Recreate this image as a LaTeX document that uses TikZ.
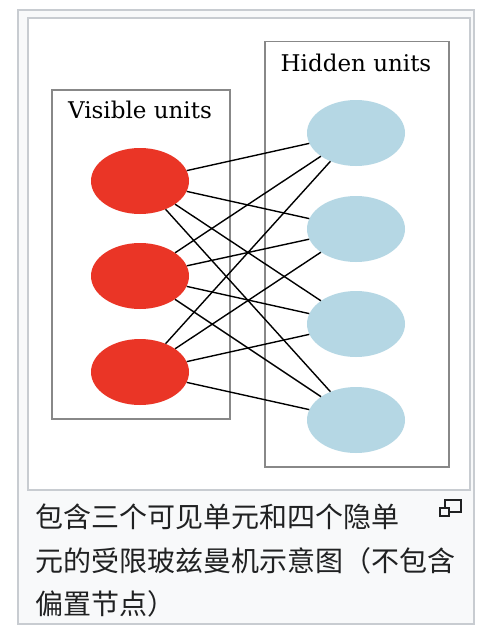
\documentclass[tikz,border=0pt]{standalone}
\usepackage{fontspec}
\newfontfamily\cjk{Noto Sans CJK SC}
\newfontfamily\unitfont{DejaVu Serif}
\usetikzlibrary{shapes.geometric, positioning}

\definecolor{visred}{RGB}{234,53,38}
\definecolor{hidblue}{RGB}{181,215,228}
\definecolor{framegray}{RGB}{200,204,209}
\definecolor{boxgray}{RGB}{136,136,136}
\definecolor{captionbg}{RGB}{248,249,250}
\definecolor{captiontext}{RGB}{32,33,34}

\tikzset{
  unit/.style={ellipse,minimum width=98pt,minimum height=66pt,inner sep=0pt},
  visible/.style={unit,fill=visred},
  hidden/.style={unit,fill=hidblue},
  layerbox/.style={draw=boxgray,line width=1.5pt,rectangle,inner sep=0pt,anchor=north west},
  layerlabel/.style={font=\unitfont\fontsize{23}{27}\selectfont,anchor=base},
  weight/.style={line width=1.4pt},
  captionline/.style={font=\cjk\fontsize{28}{44}\selectfont,text=captiontext,anchor=base west,inner sep=0pt}
}

\begin{document}
\begin{tikzpicture}[x=1pt,y=-1pt]
\useasboundingbox (0,0) rectangle (484,626);

% frame and thumbnail
\draw[draw=framegray,fill=captionbg,line width=1.5pt] (18,10) rectangle (474,624);
\draw[draw=framegray,fill=white,line width=1.5pt] (28,18) rectangle (470,490);

% layer boxes
\node[layerbox,minimum width=178pt,minimum height=329pt] (vbox) at (51,89){};
\node[layerbox,minimum width=184pt,minimum height=425pt] (hbox) at (264,41){};
\node[layerlabel] (vlabel) at (140,118){Visible units};
\node[layerlabel] (hlabel) at (356,71){Hidden units};

% units
\node[visible] (v1) at (140,181){};
\node[visible] (v2) at (140,276){};
\node[visible] (v3) at (140,372){};
\node[hidden] (h1) at (356,133){};
\node[hidden] (h2) at (356,229){};
\node[hidden] (h3) at (356,324){};
\node[hidden] (h4) at (356,420){};

\draw[weight] (v1) to (h1);
\draw[weight] (v1) to (h2);
\draw[weight] (v1) to (h3);
\draw[weight] (v1) to (h4);

\draw[weight] (v2) to (h1);
\draw[weight] (v2) to (h2);
\draw[weight] (v2) to (h3);
\draw[weight] (v2) to (h4);

\draw[weight] (v3) to (h1);
\draw[weight] (v3) to (h2);
\draw[weight] (v3) to (h3);
\draw[weight] (v3) to (h4);

% caption
\node[captionline] (cap1) at (35,527){包含三个可见单元和四个隐单};
\node[captionline] (cap2) at (35,571){元的受限玻兹曼机示意图（不包含};
\node[captionline] (cap3) at (35,614){偏置节点）};

% enlarge icon
\draw[draw=captiontext,line width=1.5pt] (445,500) rectangle (461,512);
\draw[draw=captiontext,fill=captionbg,line width=1.5pt] (440,508) rectangle (449,516);
\end{tikzpicture}
\end{document}
